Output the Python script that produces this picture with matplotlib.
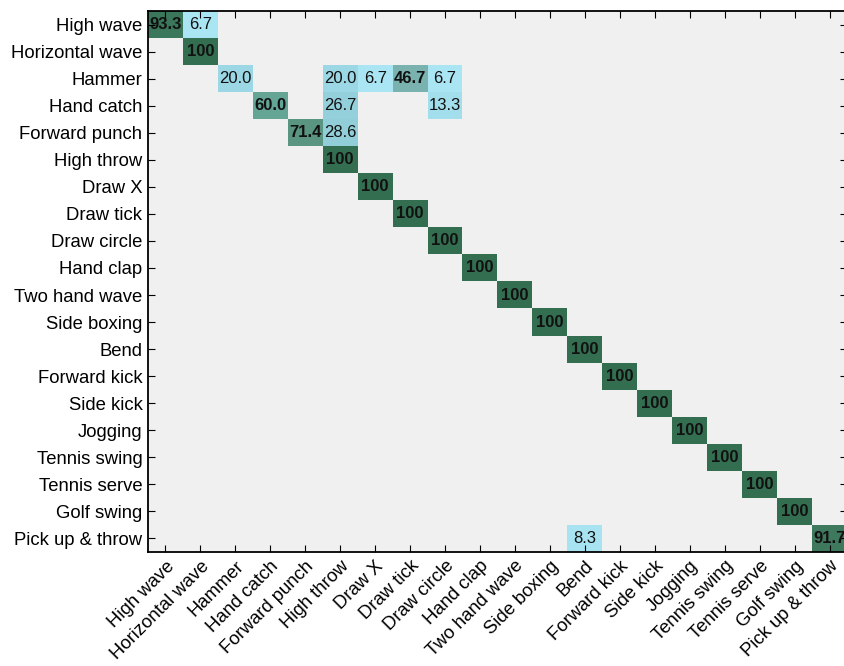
import numpy as np
import matplotlib.pyplot as plt
from matplotlib.colors import LinearSegmentedColormap

labels = ['High wave', 'Horizontal wave', 'Hammer', 'Hand catch', 'Forward punch',
          'High throw', 'Draw X', 'Draw tick', 'Draw circle', 'Hand clap',
          'Two hand wave', 'Side boxing', 'Bend', 'Forward kick', 'Side kick',
          'Jogging', 'Tennis swing', 'Tennis serve', 'Golf swing', 'Pick up & throw']

# diagonal (correct) percentages
diag_pct = [93.3, 100, 20.0, 60.0, 71.4, 100, 100, 100, 100, 100,
            100, 100, 100, 100, 100, 100, 100, 100, 100, 91.7]

# off-diagonal confusions
off_rows = [0, 2, 2, 2, 2, 3, 3, 4, 19]
off_cols = [1, 5, 6, 7, 8, 5, 8, 5, 12]
off_pct = [6.7, 20.0, 6.7, 46.7, 6.7, 26.7, 13.3, 28.6, 8.3]

n = len(labels)
mat = np.zeros((n, n))
mat[np.arange(n), np.arange(n)] = diag_pct
mat[off_rows, off_cols] = off_pct

# colour map picked from the reference cells
cmap = LinearSegmentedColormap.from_list('cm', [
    (0.0, '#b2ecfc'), (0.2, '#9bd7e4'), (0.3, '#91cdd7'), (0.47, '#7ab2af'),
    (0.6, '#64a596'), (0.71, '#5a9682'), (1.0, '#336e50')])
masked = np.ma.masked_where(mat == 0, mat)

fig = plt.figure(figsize=(8.45, 6.66), dpi=100)
ax = fig.add_axes([148 / 845, 1 - 552 / 666, 699 / 845, 541 / 666])
ax.set_facecolor('#f0f0f0')
ax.imshow(masked, cmap=cmap, vmin=0, vmax=100, aspect='auto', interpolation='nearest')

for i in range(n):
    for j in range(n):
        v = mat[i, j]
        if v == 0:
            continue
        txt = '100' if v == 100 else f'{v:.1f}'
        ax.text(j, i, txt, ha='center', va='center', fontsize=12,
                fontfamily='Liberation Sans',
                fontweight='bold' if v >= 40 else 'normal', color='#111111')

ax.set_xticks(range(n))
ax.set_yticks(range(n))
ax.set_xticklabels(labels, rotation=45, ha='right', rotation_mode='anchor',
                   fontsize=13.3, fontfamily='Liberation Sans')
ax.set_yticklabels(labels, fontsize=13.3, fontfamily='Liberation Sans')
ax.tick_params(direction='in', top=True, right=True, length=5, width=0.8, pad=4)
for s in ax.spines.values():
    s.set_linewidth(1.3)

fig.savefig('out.png', dpi=100)
